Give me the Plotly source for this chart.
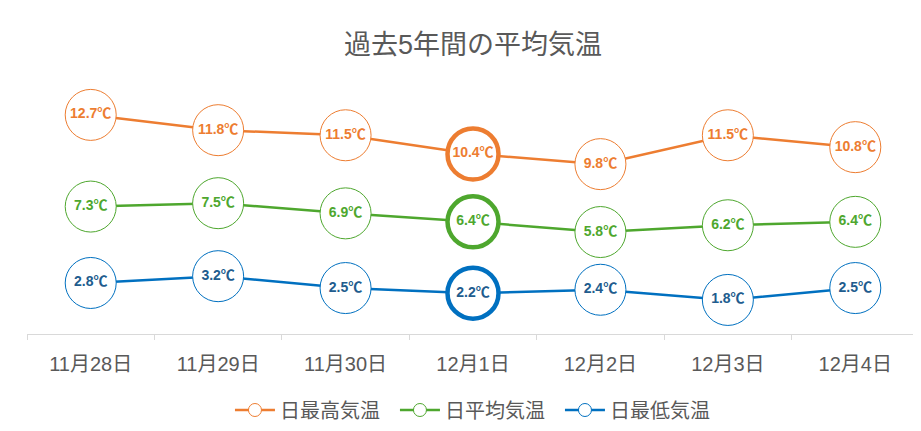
import plotly.graph_objects as go

dates = ["11月28日", "11月29日", "11月30日", "12月1日", "12月2日", "12月3日", "12月4日"]
high = [12.7, 11.8, 11.5, 10.4, 9.8, 11.5, 10.8]
avg = [7.3, 7.5, 6.9, 6.4, 5.8, 6.2, 6.4]
low = [2.8, 3.2, 2.5, 2.2, 2.4, 1.8, 2.5]
series_names = ["日最高気温", "日平均気温", "日最低気温"]
highlight_index = 3

line_colors = ["#ED7D31", "#4EA72E", "#0070C0"]
text_colors = ["#ED7D31", "#4EA72E", "#215C8E"]
font_family = "Liberation Sans, Arial, Noto Sans CJK JP, sans-serif"

fig = go.Figure()
for name, vals, lc, tc in zip(series_names, [high, avg, low], line_colors, text_colors):
    widths = [4.5 if i == highlight_index else 1 for i in range(len(vals))]
    fig.add_trace(go.Scatter(
        x=dates, y=vals, mode="lines+markers+text",
        text=[f"{v:.1f}℃" for v in vals], textposition="middle center",
        textfont=dict(family=font_family, size=14, color=tc, weight="bold"),
        line=dict(color=lc, width=2.5),
        marker=dict(size=51, color="white", line=dict(color=lc, width=widths)),
        cliponaxis=False, showlegend=False, hoverinfo="x+y", name=name,
    ))
for name, lc in zip(series_names, line_colors):
    fig.add_trace(go.Scatter(
        x=[None], y=[None], mode="lines+markers", name=name,
        line=dict(color=lc, width=2.5),
        marker=dict(size=13, color="white", line=dict(color=lc, width=1)),
    ))

fig.update_layout(
    width=921, height=431,
    margin=dict(l=19, r=10, t=76, b=105, autoexpand=False),
    paper_bgcolor="white", plot_bgcolor="white",
    font=dict(family=font_family, color="#595959"),
    title=dict(text="過去5年間の平均気温", x=0.5, xref="paper", xanchor="center",
               y=1 - 37 / 431, yref="container", yanchor="middle",
               font=dict(size=27, color="#595959", family=font_family)),
    xaxis=dict(type="category", range=[-0.5, 6.5], showgrid=False,
               showline=True, linecolor="#D9D9D9", linewidth=1,
               ticks="outside", tickson="boundaries", ticklen=5, tickcolor="#D9D9D9",
               ticklabelstandoff=12,
               tickfont=dict(size=20, color="#595959"), fixedrange=True),
    yaxis=dict(range=[-0.206, 14.52], visible=False, fixedrange=True),
    legend=dict(orientation="h", x=0.505, xanchor="center", y=-0.304, yanchor="middle",
                font=dict(size=20, color="#595959"), itemwidth=40,
                entrywidth=110, entrywidthmode="pixels"),
)

fig.write_html("out.html")
